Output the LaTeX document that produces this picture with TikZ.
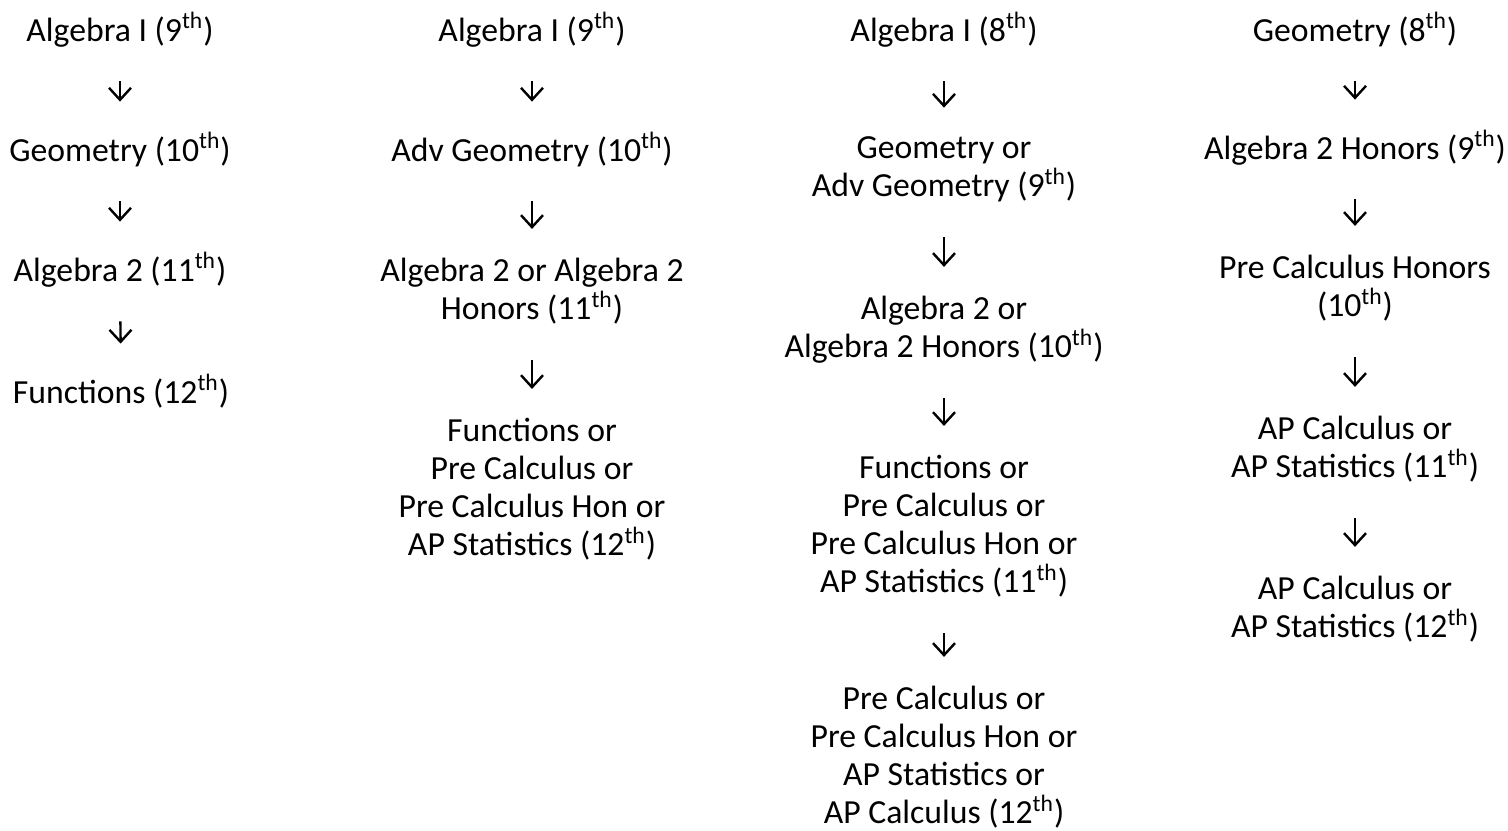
\documentclass[tikz,border=0pt]{standalone}
\usepackage{fontspec}
\setmainfont{Carlito}
\usetikzlibrary{arrows.meta}

\newcommand{\lstrut}{\rule[-4pt]{0pt}{19pt}}
\newcommand{\gr}[1]{(#1\textsuperscript{th})}

\begin{document}
\begin{tikzpicture}[x=0.5pt, y=-0.5pt,
    course/.style={inner sep=0pt, align=center, font=\fontsize{16.85}{19}\selectfont, execute at begin node=\lstrut, execute at end node=\lstrut},
    flow/.style={-{Straight Barb[length=6pt, width=11pt]}, line width=1.2pt, shorten <=16pt, shorten >=14.5pt}
]
\useasboundingbox (0,0) rectangle (1508,830);

% Path 1 - Algebra I in 9th
\node[course] (a1) at (120,30) {Algebra I \gr{9}};
\node[course] (a2) at (120,150) {Geometry \gr{10}};
\node[course] (a3) at (120,270) {Algebra 2 \gr{11}};
\node[course] (a4) at (121,392) {Functions \gr{12}};

% Path 2 - Algebra I in 9th, advanced
\node[course] (b1) at (532,30) {Algebra I \gr{9}};
\node[course] (b2) at (532,150) {Adv Geometry \gr{10}};
\node[course] (b3) at (532,293) {Algebra 2 or Algebra 2\\Honors \gr{11}};
\node[course] (b4) at (532,491) {Functions or\\Pre Calculus or\\Pre Calculus Hon or\\AP Statistics \gr{12}};

% Path 3 - Algebra I in 8th
\node[course] (c1) at (944,30) {Algebra I \gr{8}};
\node[course] (c2) at (944,171) {Geometry or\\Adv Geometry \gr{9}};
\node[course] (c3) at (944,331) {Algebra 2 or\\Algebra 2 Honors \gr{10}};
\node[course] (c4) at (944,528) {Functions or\\Pre Calculus or\\Pre Calculus Hon or\\AP Statistics \gr{11}};
\node[course] (c5) at (944,759) {Pre Calculus or\\Pre Calculus Hon or\\AP Statistics or\\AP Calculus \gr{12}};

% Path 4 - Geometry in 8th
\node[course] (d1) at (1355,30) {Geometry \gr{8}};
\node[course] (d2) at (1355,148) {Algebra 2 Honors \gr{9}};
\node[course] (d3) at (1355,290) {Pre Calculus Honors\\\gr{10}};
\node[course] (d4) at (1355,451) {AP Calculus or\\AP Statistics \gr{11}};
\node[course] (d5) at (1355,611) {AP Calculus or\\AP Statistics \gr{12}};

% Arrows
\draw[flow] (a1) -- (a2);
\draw[flow] (a2) -- (a3);
\draw[flow] (a3) -- (a4);

\draw[flow] (b1) -- (b2);
\draw[flow] (b2) -- (b3);
\draw[flow] (b3) -- (b4);

\draw[flow] (c1) -- (c2);
\draw[flow] (c2) -- (c3);
\draw[flow] (c3) -- (c4);
\draw[flow] (c4) -- (c5);

\draw[flow] (d1) -- (d2);
\draw[flow] (d2) -- (d3);
\draw[flow] (d3) -- (d4);
\draw[flow] (d4) -- (d5);

\end{tikzpicture}
\end{document}
